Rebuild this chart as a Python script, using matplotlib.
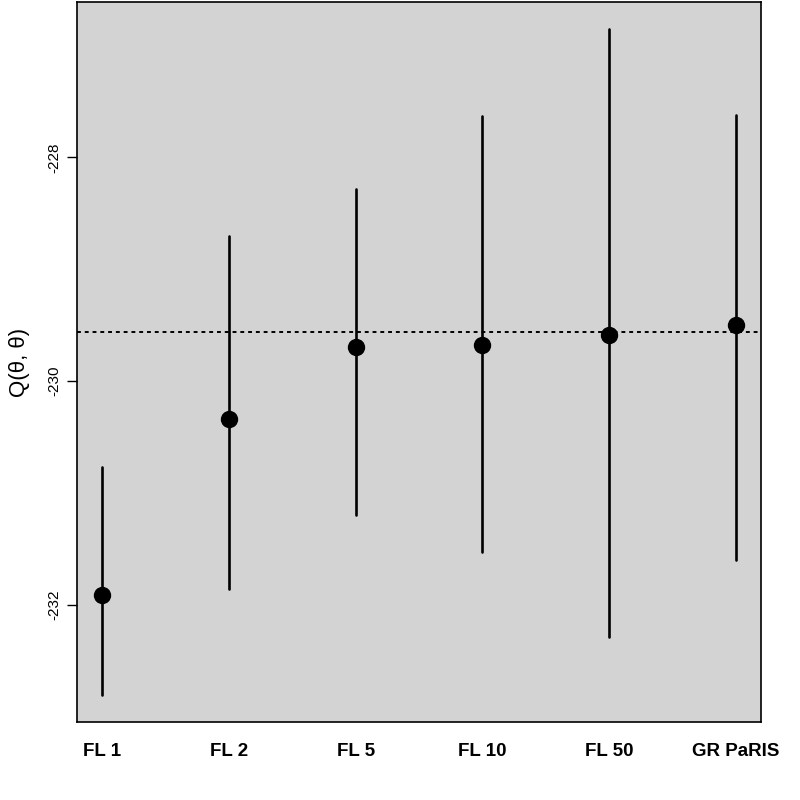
import matplotlib
matplotlib.use("Agg")
import matplotlib.pyplot as plt
import numpy as np

plt.rcParams["font.family"] = ["Liberation Sans", "DejaVu Sans"]

categories = ["FL 1", "FL 2", "FL 5", "FL 10", "FL 50", "GR PaRIS"]
means = [-231.911, -230.339, -229.696, -229.679, -229.589, -229.500]
upper = [-230.768, -228.705, -228.286, -227.625, -226.848, -227.616]
lower = [-232.8125, -231.857, -231.196, -231.527, -232.295, -231.598]
ref_line = -229.5625
yticks = [-228, -230, -232]

fig = plt.figure(figsize=(8, 8), dpi=100)
ax = fig.add_axes([77/800, 1 - 722/800, (761-77)/800, (722-2)/800])
ax.set_facecolor("#d3d3d3")
x = np.arange(1, len(categories) + 1)

ax.vlines(x, lower, upper, color="black", linewidth=1.9, capstyle="round")
ax.plot(x, means, "o", color="black", markersize=11.5)
ax.axhline(ref_line, color="black", linestyle=(0, (2, 2)), linewidth=1.4)

ymin, ymax = min(lower), max(upper)
pad = 0.04 * (ymax - ymin)
ax.set_ylim(ymin - pad, ymax + pad)
ax.set_xlim(0.8, 6.2)

ax.set_yticks(yticks)
ax.set_yticklabels([str(t) for t in yticks], rotation=90, va="center", fontsize=11)
ax.tick_params(axis="y", length=7, width=1, pad=4)
ax.set_xticks(x)
ax.set_xticklabels(categories, fontsize=13.5, fontweight="bold")
ax.tick_params(axis="x", length=0, pad=15)
for s in ax.spines.values():
    s.set_linewidth(1.2)

fig.text(20/800, 1 - 362/800, "Q(θ, θ)", rotation=90, ha="center", va="center", fontsize=16)

fig.savefig("out.png", dpi=100)
